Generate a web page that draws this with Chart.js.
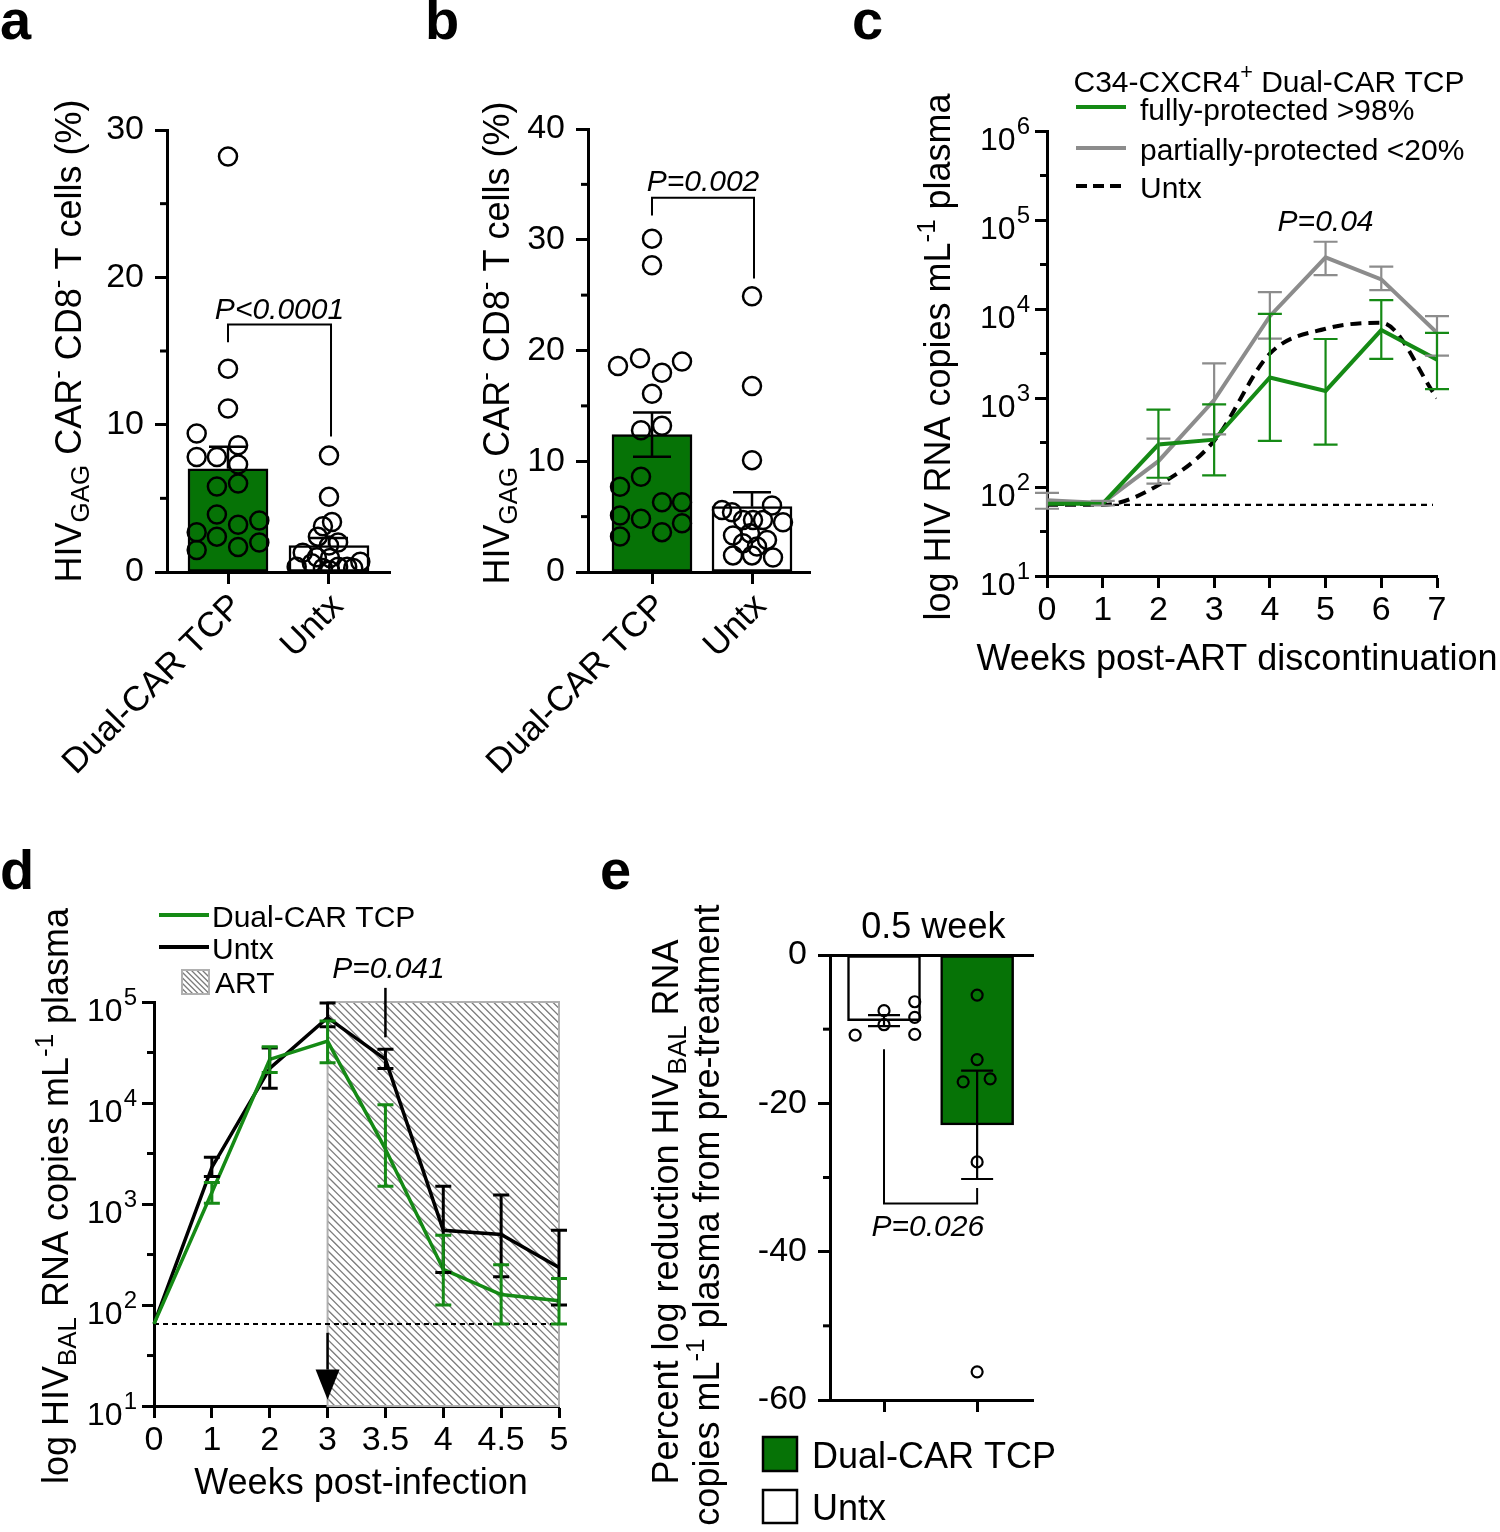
<!DOCTYPE html>
<html>
<head>
<meta charset="utf-8">
<script src="https://cdn.jsdelivr.net/npm/chart.js@4.4.1/dist/chart.umd.min.js"></script>
<style>
  body { margin: 0; background: #fff; }
  #page { position: relative; width: 1500px; height: 1532px; overflow: hidden; background: #fff;
          font-family: "Liberation Sans", Arial, sans-serif; }
  #page canvas { position: absolute; }
  .lbl { position: absolute; font-weight: bold; font-size: 56px; line-height: 56px; color: #000; }
</style>
</head>
<body>
<div id="page">
  <div class="lbl" style="left:0px;top:-8px">a</div>
  <div class="lbl" style="left:425px;top:-8px">b</div>
  <div class="lbl" style="left:852px;top:-8px">c</div>
  <div class="lbl" style="left:0px;top:842px">d</div>
  <div class="lbl" style="left:600px;top:842px">e</div>
  <canvas id="cA" width="420" height="720" style="left:0px;top:90px"></canvas>
  <canvas id="cB" width="420" height="720" style="left:420px;top:90px"></canvas>
  <canvas id="cC" width="640" height="700" style="left:860px;top:0px"></canvas>
  <canvas id="cD" width="620" height="672" style="left:0px;top:860px"></canvas>
  <canvas id="cE" width="440" height="652" style="left:620px;top:880px"></canvas>
</div>
<script>
// ---------- DATA ----------
// a
const groupsA = ['Dual-CAR TCP', 'Untx'];
const meanA = [7.0, 1.8];
const semA = [1.5, 0.5];
const dualA = [28.2, 13.8, 11.1, 9.4, 7.8, 7.8, 8.6, 7.3, 5.8, 6.0, 3.9, 2.7, 2.4, 3.2, 3.5, 1.5, 1.7, 2.0];
const dualAjit = [0, 0, 0, -0.31, -0.31, -0.11, 0.1, 0.1, -0.11, 0.1, -0.11, -0.31, -0.11, 0.1, 0.31, -0.31, 0.1, 0.31];
const untxA = [7.9, 5.1, 3.4, 3.1, 2.4, 2.0, 1.8, 1.3, 1.0, 0.95, 0.35, 0.27, 0.35, 0.35, 0.7, 0.27, 0.1, 0.6];
const untxAjit = [0, 0, 0.03, -0.06, -0.11, 0.09, 0, -0.26, -0.12, 0.01, -0.32, -0.06, 0.09, 0.18, 0.31, 0.24, 0.01, -0.17];
const pA = { text: 'P<0.0001', top: 16.8, left: 15.6, right: 9.2, textY: 17.9 };

// b
const groupsB = ['Dual-CAR TCP', 'Untx'];
const meanB = [12.4, 5.9];
const semB = [2.0, 1.3];
const dualB = [30.1, 27.7, 18.6, 19.3, 18.0, 19.0, 16.1, 12.8, 13.2, 8.6, 7.7, 6.3, 6.3, 5.1, 4.8, 4.4, 3.6, 3.2];
const dualBjit = [0, 0, -0.34, -0.12, 0.1, 0.3, 0, -0.11, 0.1, -0.11, -0.32, 0.1, 0.3, -0.32, -0.11, 0.3, 0.1, -0.32];
const untxB = [24.9, 16.8, 10.1, 5.6, 5.4, 6.0, 4.5, 4.7, 4.7, 4.7, 3.3, 3.5, 2.9, 2.6, 2.3, 1.5, 1.5, 1.3];
const untxBjit = [0, 0, 0, -0.30, -0.20, 0.20, 0.31, -0.09, 0.01, 0.11, -0.19, -0.02, 0.15, -0.09, 0.05, -0.19, 0, 0.21];
const pB = { text: 'P=0.002', top: 33.8, left: 32.2, right: 26.5, textY: 35.4 };

// c
const weeksC = [0, 1, 2, 3, 4, 5, 6, 7];
const fullC = [65, 65, 300, 340, 1700, 1200, 5800, 2700];
const fullClo = [null, null, 127, 135, 330, 300, 2750, 1260];
const fullChi = [null, null, 740, 850, 8800, 4600, 12600, 5400];
const partC = [71, 66, 195, 950, 8300, 38000, 21500, 5400];
const partClo = [57, 62, 109, 390, 4650, 24000, 16300, 3000];
const partChi = [86, 70, 350, 2450, 15500, 57000, 30000, 8300];
const untxC = [63, 63, 105, 330, 3150, 6000, 7000, 1000];
const lodC = 63;
const decadesC = [10, 100, 1000, 10000, 100000, 1000000];
const halfDecC = [31.6, 316, 3162, 31623, 316228];
const pC = { text: 'P=0.04', x: 5, y: 100000 };

// d
const weeksD = ['0', '1', '2', '3', '3.5', '4', '4.5', '5'];
const dualD = [65, 1300, 27000, 41000, 3500, 225, 127, 110];
const dualDlo = [null, 1020, 20000, 25000, 1500, 100, 65, 65];
const dualDhi = [null, 1630, 36000, 65000, 9600, 490, 250, 183];
const untxD = [65, 2300, 22000, 70000, 27000, 550, 500, 235];
const untxDlo = [null, 1870, 14000, 57000, 22000, 210, 190, 100];
const untxDhi = [null, 2900, 35000, 98000, 34000, 1500, 1230, 550];
const lodD = 65;
const artD = ['3', '5'];
const decadesD = [10, 100, 1000, 10000, 100000];
const halfDecD = [31.6, 316, 3162, 31623];
const arrowD = { x: '3', from: 53, head: 23, tip: 11.5 };
const pD = { text: 'P=0.041', x: '3.5', textY: 219000, top: 138000, bottom: 44700 };

// e
const groupsE = ['Untx', 'Dual-CAR TCP'];
const meanE = [-8.85, -22.9];
const semE = [0.75, 7.3];
const untxE = [-10.8, -7.5, -9.4, -6.3, -8.4, -10.7];
const untxEjit = [-0.31, 0, 0, 0.33, 0.33, 0.33];
const dualE = [-5.4, -14.1, -17.1, -16.7, -27.9, -56.2];
const dualEjit = [0, 0, -0.15, 0.14, 0, 0];
const pE = { text: 'P=0.026', left: -12.7, bottom: -33.5, right: -31.4, textY: -36.4 };

// ---------- STYLE ----------
const FONT = '"Liberation Sans", Arial, Helvetica, sans-serif';
const GREEN = '#067306';
const GREEN_L = '#158a15';
const GRAY = '#8c8c8c';
Chart.defaults.font.family = FONT;
Chart.defaults.font.size = 34;
Chart.defaults.color = '#000';
Chart.defaults.animation = false;
Chart.defaults.events = [];
Chart.defaults.plugins.legend.display = false;
Chart.defaults.plugins.tooltip.enabled = false;

const axisLook = () => ({
  border: { color: '#000', width: 3 },
  grid: { drawOnChartArea: false, offset: false, tickLength: 12, tickWidth: 3, tickColor: '#000' }
});

// rich text: segments [text, 'sub'|'sup'|undefined]
function drawRich(ctx, segs, x, y, size, o = {}) {
  const small = size * 0.72;
  const fontOf = m => `${o.italic ? 'italic ' : ''}${m ? small : size}px ${FONT}`;
  ctx.save();
  ctx.translate(x, y);
  if (o.rot) ctx.rotate(o.rot);
  ctx.fillStyle = '#000';
  ctx.textBaseline = 'alphabetic';
  ctx.textAlign = 'left';
  let w = 0;
  segs.forEach(([t, m]) => { ctx.font = fontOf(m); w += ctx.measureText(t).width; });
  let cx = o.align === 'left' ? 0 : (o.align === 'right' ? -w : -w / 2);
  const base = size * 0.36;
  segs.forEach(([t, m]) => {
    ctx.font = fontOf(m);
    const dy = m === 'sub' ? size * 0.22 : (m === 'sup' ? -size * 0.42 : 0);
    ctx.fillText(t, cx, base + dy);
    cx += ctx.measureText(t).width;
  });
  ctx.restore();
}

function line(ctx, pts, width, color, dash) {
  ctx.save();
  ctx.strokeStyle = color || '#000';
  ctx.lineWidth = width;
  ctx.setLineDash(dash || []);
  ctx.beginPath();
  pts.forEach(([x, y], i) => i ? ctx.lineTo(x, y) : ctx.moveTo(x, y));
  ctx.stroke();
  ctx.restore();
}

// ---------- PLUGINS ----------
function paintErr(chart, opts) {
  const { ctx, scales: { x, y } } = chart;
  ctx.save();
  (opts.sets || []).forEach(s => {
    ctx.strokeStyle = s.color;
    ctx.lineWidth = s.width;
    s.x.forEach((xv, i) => {
      if (s.hi[i] == null) return;
      const px = x.getPixelForValue(xv);
      const ph = y.getPixelForValue(s.hi[i]);
      const pl = y.getPixelForValue(s.lo[i]);
      ctx.beginPath();
      ctx.moveTo(px, pl); ctx.lineTo(px, ph);
      ctx.moveTo(px - s.cap, ph); ctx.lineTo(px + s.cap, ph);
      if (s.lo[i] !== s.mid[i]) { ctx.moveTo(px - s.cap, pl); ctx.lineTo(px + s.cap, pl); }
      ctx.stroke();
    });
  });
  ctx.restore();
}
const errorBars = {
  id: 'errorBars',
  afterDatasetDraw(chart, args, opts) { if (opts.after === args.index) paintErr(chart, opts); },
  afterDatasetsDraw(chart, args, opts) { if (opts.after === -1) paintErr(chart, opts); }
};
const minorTicks = {
  id: 'minorTicks',
  afterDraw(chart, args, opts) {
    const ys = chart.scales.y, ctx = chart.ctx;
    (opts.values || []).forEach(v => {
      const py = ys.getPixelForValue(v);
      line(ctx, [[ys.right - opts.len, py], [ys.right, py]], 3);
    });
  }
};
// 10^n labels for the log axes, placed on the axis' own ticks
const powLabels = {
  id: 'powLabels',
  afterDraw(chart) {
    const ys = chart.scales.y, ctx = chart.ctx;
    ctx.save();
    ctx.fillStyle = '#000';
    ctx.textAlign = 'left';
    ctx.textBaseline = 'alphabetic';
    ys.ticks.forEach(t => {
      const py = ys.getPixelForValue(t.value);
      const e = String(Math.round(Math.log10(t.value)));
      ctx.font = `32px ${FONT}`;
      const w1 = ctx.measureText('10').width;
      ctx.font = `24px ${FONT}`;
      const w2 = ctx.measureText(e).width;
      const x0 = ys.right - 18 - w1 - w2;
      ctx.font = `32px ${FONT}`;
      ctx.fillText('10', x0, py + 19);
      ctx.font = `24px ${FONT}`;
      ctx.fillText(e, x0 + w1 + 1, py + 3);
    });
    ctx.restore();
  }
};

// ---------- a + b : bars with dots ----------
function barDots(id, c) {
  const dots = [];
  c.dual.forEach((v, i) => dots.push({ x: 0 + c.dualJit[i], y: v }));
  c.untx.forEach((v, i) => dots.push({ x: 1 + c.untxJit[i], y: v }));
  const bracket = {
    id: 'bracket',
    afterDraw(chart) {
      const { ctx, scales: { x, y } } = chart;
      const x0 = x.getPixelForValue(0), x1 = x.getPixelForValue(1.02);
      line(ctx, [[x0, y.getPixelForValue(c.p.left)], [x0, y.getPixelForValue(c.p.top)],
                 [x1, y.getPixelForValue(c.p.top)], [x1, y.getPixelForValue(c.p.right)]], 2);
      drawRich(ctx, [[c.p.text]], x.getPixelForValue(0.51), y.getPixelForValue(c.p.textY), 30, { italic: true });
      drawRich(ctx, [['HIV'], ['GAG', 'sub'], [' CAR'], ['-', 'sup'], [' CD8'], ['-', 'sup'], [' T cells (%)']],
               c.titleX, c.titleY, 36, { rot: -Math.PI / 2 });
    }
  };
  return new Chart(document.getElementById(id), {
    type: 'bar',
    data: {
      datasets: [
        { type: 'scatter', order: 0, data: dots, pointRadius: 9, pointBorderWidth: 2.5,
          pointBorderColor: '#000', pointBackgroundColor: 'rgba(0,0,0,0)' },
        { type: 'bar', order: 1, data: c.mean.map((m, i) => ({ x: i, y: m })),
          backgroundColor: [GREEN, '#fff'], borderColor: '#000', borderWidth: 2.5,
          borderSkipped: false, barThickness: 80 }
      ]
    },
    options: {
      responsive: false,
      devicePixelRatio: 1,
      layout: { padding: { left: 0, top: c.top, right: 30, bottom: 0 } },
      scales: {
        x: Object.assign(axisLook(), {
          type: 'linear', min: c.xmin, max: c.xmax, offset: false,
          afterBuildTicks: s => { s.ticks = [{ value: 0 }, { value: 1 }]; },
          afterFit: s => { s.height = 720 - 482; },
          ticks: { callback: v => c.groups[v], minRotation: 45, maxRotation: 45, autoSkip: false,
                   padding: 2, labelOffset: 9, font: { size: 35 } }
        }),
        y: Object.assign(axisLook(), {
          min: 0, max: c.ymax,
          afterFit: s => { s.width = c.left; },
          ticks: { stepSize: 10, padding: 11, font: { size: 34 } }
        })
      },
      plugins: {
        errorBars: { after: 1, sets: [{ x: [0, 1], mid: c.mean, lo: c.lo, hi: c.mean.map((m, i) => m + c.sem[i]),
                                        color: '#000', width: 2.5, cap: 19 }] },
        minorTicks: { values: c.minor, len: 7 }
      }
    },
    plugins: [errorBars, minorTicks, bracket]
  });
}

barDots('cA', {
  groups: groupsA, mean: meanA, sem: semA, lo: meanA.slice(),
  dual: dualA, dualJit: dualAjit, untx: untxA, untxJit: untxAjit, p: pA,
  top: 40, left: 167, xmin: -0.604, xmax: 1.604, ymax: 30, minor: [5, 15, 25],
  titleX: 68, titleY: 251
});
barDots('cB', {
  groups: groupsB, mean: meanB, sem: semB, lo: [meanB[0] - semB[0], meanB[1]],
  dual: dualB, dualJit: dualBjit, untx: untxB, untxJit: untxBjit, p: pB,
  top: 39, left: 168, xmin: -0.64, xmax: 1.58, ymax: 40, minor: [5, 15, 25, 35],
  titleX: 76, titleY: 253
});

// ---------- c ----------
const decoC = {
  id: 'decoC',
  beforeDatasetsDraw(chart) {
    const { ctx, scales: { x, y } } = chart;
    const py = y.getPixelForValue(lodC);
    line(ctx, [[x.getPixelForValue(0), py], [x.getPixelForValue(7) - 4, py]], 2.2, '#000', [6, 5]);
  },
  afterDraw(chart) {
    const { ctx, scales: { x, y } } = chart;
    drawRich(ctx, [[pC.text]], x.getPixelForValue(pC.x), y.getPixelForValue(pC.y), 30, { italic: true });
    drawRich(ctx, [['log HIV RNA copies mL'], ['-1', 'sup'], [' plasma']], 77, 357, 36, { rot: -Math.PI / 2 });
    drawRich(ctx, [['Weeks post-ART discontinuation']], 377, 657, 36);
    // legend
    drawRich(ctx, [['C34-CXCR4'], ['+', 'sup'], [' Dual-CAR TCP']], 409, 81, 30);
    line(ctx, [[216, 107], [266, 107]], 4, GREEN_L);
    line(ctx, [[216, 148], [266, 148]], 4, GRAY);
    line(ctx, [[216, 186], [266, 186]], 4, '#000', [11, 6]);
    drawRich(ctx, [['fully-protected >98%']], 280, 109, 30, { align: 'left' });
    drawRich(ctx, [['partially-protected <20%']], 280, 149, 30, { align: 'left' });
    drawRich(ctx, [['Untx']], 280, 187, 30, { align: 'left' });
  }
};
new Chart(document.getElementById('cC'), {
  type: 'line',
  data: {
    datasets: [
      { label: 'fully-protected >98%', order: 0, data: weeksC.map((w, i) => ({ x: w, y: fullC[i] })),
        borderColor: GREEN_L, borderWidth: 4, pointRadius: 0 },
      { label: 'Untx', order: 1, data: weeksC.map((w, i) => ({ x: w, y: untxC[i] })),
        borderColor: '#000', borderWidth: 4, borderDash: [11, 7], cubicInterpolationMode: 'monotone', pointRadius: 0 },
      { label: 'partially-protected <20%', order: 2, data: weeksC.map((w, i) => ({ x: w, y: partC[i] })),
        borderColor: GRAY, borderWidth: 4, pointRadius: 0 }
    ]
  },
  options: {
    responsive: false,
    devicePixelRatio: 1,
    layout: { padding: { left: 0, top: 131, right: 63, bottom: 0 } },
    scales: {
      x: Object.assign(axisLook(), {
        type: 'linear', min: 0, max: 7,
        afterFit: s => { s.height = 700 - 576; },
        ticks: { stepSize: 1, padding: 2, font: { size: 34 } }
      }),
      y: Object.assign(axisLook(), {
        type: 'logarithmic', min: 10, max: 1000000,
        afterFit: s => { s.width = 187; },
        afterBuildTicks: s => { s.ticks = decadesC.map(v => ({ value: v })); },
        ticks: { callback: () => '' }
      })
    },
    plugins: {
      errorBars: { after: -1, sets: [
        { x: weeksC, mid: partC, lo: partClo, hi: partChi, color: GRAY, width: 2.2, cap: 12 },
        { x: weeksC, mid: fullC, lo: fullClo, hi: fullChi, color: GREEN_L, width: 2.2, cap: 12 }
      ] },
      minorTicks: { values: halfDecC, len: 7 }
    }
  },
  plugins: [errorBars, minorTicks, powLabels, decoC]
});

// ---------- d ----------
const idx = w => weeksD.indexOf(w);
const decoD = {
  id: 'decoD',
  beforeDatasetsDraw(chart) {
    const { ctx, scales: { x, y } } = chart;
    const x0 = x.getPixelForValue(idx(artD[0])), x1 = x.getPixelForValue(idx(artD[1]));
    const y0 = y.getPixelForValue(100000), y1 = y.getPixelForValue(10);
    const h = y1 - y0;
    ctx.save();
    ctx.beginPath(); ctx.rect(x0, y0, x1 - x0, h); ctx.clip();
    ctx.strokeStyle = '#7c7c7c'; ctx.lineWidth = 1.3;
    ctx.beginPath();
    for (let k = x0 - h; k < x1; k += 7.4) { ctx.moveTo(k, y0); ctx.lineTo(k + h, y1); }
    ctx.stroke();
    ctx.restore();
    ctx.save(); ctx.strokeStyle = '#b0b0b0'; ctx.lineWidth = 2; ctx.strokeRect(x0, y0, x1 - x0, h); ctx.restore();
    const py = y.getPixelForValue(lodD);
    line(ctx, [[x.getPixelForValue(0), py], [x.getPixelForValue(7) + 6, py]], 2, '#000', [5, 4]);
  },
  afterDraw(chart) {
    const { ctx, scales: { x, y } } = chart;
    // arrow at ART start
    const ax = x.getPixelForValue(idx(arrowD.x));
    line(ctx, [[ax, y.getPixelForValue(arrowD.from)], [ax, y.getPixelForValue(arrowD.head)]], 2.5);
    ctx.save(); ctx.fillStyle = '#000'; ctx.beginPath();
    ctx.moveTo(ax - 12, y.getPixelForValue(arrowD.head)); ctx.lineTo(ax + 12, y.getPixelForValue(arrowD.head));
    ctx.lineTo(ax, y.getPixelForValue(arrowD.tip)); ctx.closePath(); ctx.fill(); ctx.restore();
    // p value
    const px = x.getPixelForValue(idx(pD.x));
    line(ctx, [[px, y.getPixelForValue(pD.top)], [px, y.getPixelForValue(pD.bottom)]], 2.5);
    drawRich(ctx, [[pD.text]], px + 3, y.getPixelForValue(pD.textY), 30, { italic: true });
    // titles
    drawRich(ctx, [['log HIV'], ['BAL', 'sub'], [' RNA copies mL'], ['-1', 'sup'], [' plasma']], 55, 336, 36, { rot: -Math.PI / 2 });
    drawRich(ctx, [['Weeks post-infection']], 361, 621, 36);
    // legend
    line(ctx, [[159, 55], [209, 55]], 4, GREEN_L);
    line(ctx, [[159, 87], [209, 87]], 4, '#000');
    drawRich(ctx, [['Dual-CAR TCP']], 212, 56, 30, { align: 'left' });
    drawRich(ctx, [['Untx']], 212, 88, 30, { align: 'left' });
    ctx.save();
    ctx.beginPath(); ctx.rect(182, 110, 27, 24); ctx.clip();
    ctx.strokeStyle = '#7c7c7c'; ctx.lineWidth = 1.3; ctx.beginPath();
    for (let k = 182 - 24; k < 209; k += 5.5) { ctx.moveTo(k, 110); ctx.lineTo(k + 24, 134); }
    ctx.stroke(); ctx.restore();
    ctx.save(); ctx.strokeStyle = '#b0b0b0'; ctx.lineWidth = 2; ctx.strokeRect(182, 110, 27, 24); ctx.restore();
    drawRich(ctx, [['ART']], 215, 122, 30, { align: 'left' });
  }
};
new Chart(document.getElementById('cD'), {
  type: 'line',
  data: {
    labels: weeksD,
    datasets: [
      { label: 'Dual-CAR TCP', order: 0, data: dualD, borderColor: GREEN_L, borderWidth: 3.5, pointRadius: 0 },
      { label: 'Untx', order: 1, data: untxD, borderColor: '#000', borderWidth: 3.5, pointRadius: 0 }
    ]
  },
  options: {
    responsive: false,
    devicePixelRatio: 1,
    layout: { padding: { left: 0, top: 142, right: 61, bottom: 0 } },
    scales: {
      x: Object.assign(axisLook(), {
        type: 'category', offset: false,
        afterFit: s => { s.height = 672 - 546; },
        ticks: { padding: 2, font: { size: 34 }, autoSkip: false, maxRotation: 0 }
      }),
      y: Object.assign(axisLook(), {
        type: 'logarithmic', min: 10, max: 100000,
        afterFit: s => { s.width = 154; },
        afterBuildTicks: s => { s.ticks = decadesD.map(v => ({ value: v })); },
        ticks: { callback: () => '' }
      })
    },
    plugins: {
      errorBars: { after: -1, sets: [
        { x: weeksD.map((w, i) => i), mid: untxD, lo: untxDlo, hi: untxDhi, color: '#000', width: 3, cap: 8 },
        { x: weeksD.map((w, i) => i), mid: dualD, lo: dualDlo, hi: dualDhi, color: GREEN_L, width: 3, cap: 8 }
      ] },
      minorTicks: { values: halfDecD, len: 7 }
    }
  },
  plugins: [errorBars, minorTicks, powLabels, decoD]
});

// ---------- e ----------
const dotsE = [];
untxE.forEach((v, i) => dotsE.push({ x: 0 + untxEjit[i], y: v }));
dualE.forEach((v, i) => dotsE.push({ x: 1 + dualEjit[i], y: v }));
const decoE = {
  id: 'decoE',
  afterDraw(chart) {
    const { ctx, scales: { x, y } } = chart;
    const x0 = x.getPixelForValue(0), x1 = x.getPixelForValue(1);
    line(ctx, [[x0, y.getPixelForValue(pE.left)], [x0, y.getPixelForValue(pE.bottom)],
               [x1, y.getPixelForValue(pE.bottom)], [x1, y.getPixelForValue(pE.right)]], 2);
    drawRich(ctx, [[pE.text]], x.getPixelForValue(0.47), y.getPixelForValue(pE.textY), 30, { italic: true });
    drawRich(ctx, [['0.5 week']], x.getPixelForValue(0.53), y.getPixelForValue(4), 36);
    drawRich(ctx, [['Percent log reduction HIV'], ['BAL', 'sub'], [' RNA']], 45, 332, 36, { rot: -Math.PI / 2 });
    drawRich(ctx, [['copies mL'], ['-1', 'sup'], [' plasma from pre-treatment']], 86, 335, 36, { rot: -Math.PI / 2 });
    // legend
    ctx.save();
    ctx.lineWidth = 2.5; ctx.strokeStyle = '#000';
    ctx.fillStyle = GREEN; ctx.fillRect(143, 557, 34, 34); ctx.strokeRect(143, 557, 34, 34);
    ctx.fillStyle = '#fff'; ctx.fillRect(143, 610, 34, 33); ctx.strokeRect(143, 610, 34, 33);
    ctx.restore();
    drawRich(ctx, [['Dual-CAR TCP']], 192, 575, 36, { align: 'left' });
    drawRich(ctx, [['Untx']], 192, 627, 36, { align: 'left' });
  }
};
new Chart(document.getElementById('cE'), {
  type: 'bar',
  data: {
    datasets: [
      { type: 'scatter', order: 0, data: dotsE, pointRadius: 5.5, pointBorderWidth: 2.2,
        pointBorderColor: '#000', pointBackgroundColor: 'rgba(0,0,0,0)' },
      { type: 'bar', order: 1, data: meanE.map((m, i) => ({ x: i, y: m })),
        backgroundColor: ['#fff', GREEN], borderColor: '#000', borderWidth: 2.5,
        borderSkipped: false, barThickness: 73 }
    ]
  },
  options: {
    responsive: false,
    devicePixelRatio: 1,
    layout: { padding: { left: 0, top: 75, right: 27, bottom: 0 } },
    scales: {
      x: Object.assign(axisLook(), {
        type: 'linear', min: -0.58, max: 1.6, offset: false,
        afterBuildTicks: s => { s.ticks = [{ value: 0 }, { value: 1 }]; },
        afterFit: s => { s.height = 652 - 520; },
        ticks: { callback: () => '', padding: 0 }
      }),
      xTop: {
        type: 'linear', position: 'top', min: -0.58, max: 1.6,
        border: { color: '#000', width: 3 },
        grid: { drawOnChartArea: false, drawTicks: false },
        ticks: { display: false },
        afterFit: s => { s.height = 0; }
      },
      y: Object.assign(axisLook(), {
        min: -60, max: 0,
        afterFit: s => { s.width = 210; },
        ticks: { stepSize: 20, padding: 11, font: { size: 34 } }
      })
    },
    plugins: {
      errorBars: { after: 1, sets: [
        { x: [0, 1], mid: meanE, lo: meanE.map((m, i) => m - semE[i]), hi: meanE.map((m, i) => m + semE[i]),
          color: '#000', width: 2.2, cap: 16 }
      ] },
      minorTicks: { values: [-10, -30, -50], len: 7 }
    }
  },
  plugins: [errorBars, minorTicks, decoE]
});
</script>
</body>
</html>
